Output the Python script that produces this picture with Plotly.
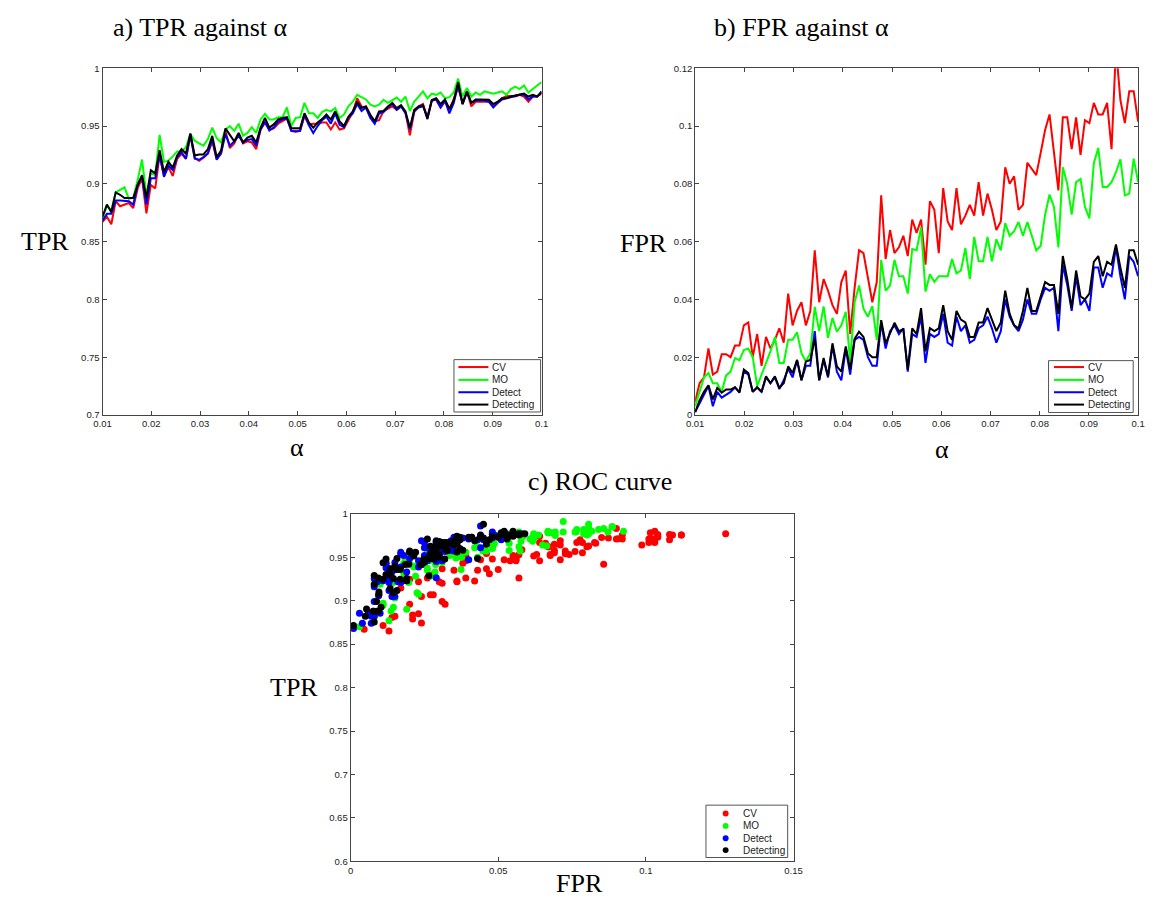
import numpy as np
import plotly.graph_objects as go

# alpha grid (0.01 : 0.0009 : 0.1)
alpha = np.round(np.linspace(0.01, 0.1, 101), 5)

names = ["CV", "MO", "Detect", "Detecting"]
colors = ["#ff0000", "#00ff00", "#0000ff", "#000000"]

tpr_cv = [0.867, 0.8715, 0.865, 0.885, 0.8806, 0.882, 0.8834, 0.879, 0.896, 0.9047,
          0.8744, 0.899, 0.896, 0.9245, 0.9067, 0.9146, 0.9067, 0.9217, 0.926, 0.9217,
          0.9415, 0.9225, 0.920, 0.9225, 0.926, 0.9367, 0.9217, 0.926, 0.9458, 0.931,
          0.935, 0.943, 0.935, 0.9367, 0.9358, 0.930, 0.947, 0.9528, 0.947, 0.948,
          0.952, 0.9542, 0.9565, 0.9458, 0.9458, 0.9458, 0.9585, 0.9514, 0.952, 0.952,
          0.953, 0.953, 0.947, 0.953, 0.947, 0.948, 0.955, 0.962, 0.974, 0.967,
          0.966, 0.958, 0.954, 0.955, 0.963, 0.965, 0.967, 0.964, 0.967, 0.962,
          0.942, 0.962, 0.967, 0.969, 0.957, 0.972, 0.9727, 0.966, 0.9712, 0.964,
          0.973, 0.983, 0.970, 0.980, 0.967, 0.971, 0.971, 0.971, 0.971, 0.967,
          0.970, 0.974, 0.976, 0.976, 0.9755, 0.977, 0.9755, 0.971, 0.9755, 0.9755,
          0.978]
tpr_mo = [0.870, 0.881, 0.877, 0.8925, 0.8948, 0.897, 0.887, 0.888, 0.903, 0.921,
          0.890, 0.909, 0.9075, 0.9424, 0.919, 0.920, 0.9237, 0.928, 0.928, 0.9316,
          0.943, 0.9373, 0.935, 0.933, 0.9387, 0.9486, 0.9395, 0.9358, 0.947, 0.950,
          0.9458, 0.952, 0.9415, 0.944, 0.949, 0.944, 0.9557, 0.9605, 0.9557, 0.9557,
          0.9576, 0.9576, 0.966, 0.950, 0.957, 0.9576, 0.970, 0.961, 0.961, 0.957,
          0.962, 0.964, 0.9627, 0.9655, 0.957, 0.960, 0.967, 0.971, 0.977, 0.975,
          0.973, 0.9684, 0.967, 0.9684, 0.9726, 0.970, 0.9726, 0.9746, 0.971, 0.9755,
          0.963, 0.9712, 0.9755, 0.980, 0.974, 0.978, 0.977, 0.979, 0.974, 0.975,
          0.979, 0.991, 0.9755, 0.983, 0.9755, 0.979, 0.977, 0.980, 0.979, 0.978,
          0.979, 0.980, 0.977, 0.982, 0.984, 0.982, 0.985, 0.979, 0.982, 0.985,
          0.988]
tpr_detect = [0.868, 0.874, 0.874, 0.8855, 0.8855, 0.885, 0.885, 0.882, 0.899, 0.906,
              0.882, 0.9047, 0.9047, 0.9254, 0.906, 0.916, 0.9118, 0.923, 0.9274, 0.9217,
              0.943, 0.9217, 0.9208, 0.923, 0.9265, 0.9387, 0.9208, 0.9265, 0.943, 0.933,
              0.9367, 0.9415, 0.9358, 0.938, 0.9387, 0.933, 0.947, 0.9537, 0.946, 0.9486,
              0.9537, 0.9557, 0.9565, 0.9458, 0.945, 0.9458, 0.960, 0.9506, 0.944, 0.950,
              0.955, 0.958, 0.952, 0.961, 0.951, 0.949, 0.957, 0.961, 0.969, 0.963,
              0.966, 0.957, 0.952, 0.961, 0.962, 0.966, 0.969, 0.964, 0.967, 0.961,
              0.947, 0.963, 0.966, 0.967, 0.958, 0.972, 0.973, 0.966, 0.972, 0.961,
              0.970, 0.986, 0.969, 0.979, 0.970, 0.972, 0.972, 0.972, 0.971, 0.966,
              0.970, 0.973, 0.974, 0.975, 0.976, 0.977, 0.977, 0.973, 0.9755, 0.9755,
              0.979]
tpr_detecting = [0.8715, 0.882, 0.8755, 0.8925, 0.8905, 0.8877, 0.8877, 0.8877, 0.899, 0.9075,
                 0.8877, 0.9118, 0.909, 0.929, 0.910, 0.919, 0.914, 0.9245, 0.930, 0.926,
                 0.9435, 0.9245, 0.9254, 0.9254, 0.930, 0.9415, 0.923, 0.9288, 0.948, 0.942,
                 0.9367, 0.944, 0.9358, 0.940, 0.9415, 0.9358, 0.9486, 0.957, 0.9486, 0.9514,
                 0.9557, 0.957, 0.9576, 0.948, 0.948, 0.948, 0.961, 0.953, 0.9486, 0.953,
                 0.956, 0.960, 0.9556, 0.9627, 0.954, 0.950, 0.958, 0.9627, 0.971, 0.9655,
                 0.967, 0.9598, 0.954, 0.9627, 0.963, 0.967, 0.970, 0.9655, 0.968, 0.9627,
                 0.9484, 0.964, 0.967, 0.968, 0.956, 0.9726, 0.974, 0.969, 0.973, 0.965,
                 0.972, 0.988, 0.969, 0.980, 0.970, 0.973, 0.973, 0.973, 0.9727, 0.969,
                 0.971, 0.9741, 0.9741, 0.9755, 0.9762, 0.977, 0.978, 0.9755, 0.977, 0.9755,
                 0.980]

fpr_cv = [0.0046, 0.011, 0.013, 0.023, 0.014, 0.015, 0.021, 0.021, 0.020, 0.024,
          0.024, 0.031, 0.032, 0.020, 0.028, 0.017, 0.027, 0.023, 0.026, 0.030,
          0.025, 0.042, 0.031, 0.036, 0.039, 0.031, 0.036, 0.057, 0.039, 0.047,
          0.043, 0.038, 0.035, 0.046, 0.050, 0.028, 0.044, 0.057, 0.056, 0.048,
          0.039, 0.046, 0.076, 0.054, 0.064, 0.056, 0.058, 0.062, 0.055, 0.0676,
          0.063, 0.0676, 0.052, 0.074, 0.071, 0.056, 0.0785, 0.067, 0.064, 0.0785,
          0.066, 0.069, 0.0727, 0.069, 0.0806, 0.069, 0.0766, 0.071, 0.064, 0.067,
          0.0857, 0.080, 0.0826, 0.071, 0.0727, 0.0873, 0.085, 0.083, 0.0907, 0.0986,
          0.104, 0.090, 0.0777, 0.103, 0.103, 0.092, 0.103, 0.090, 0.102, 0.101,
          0.108, 0.104, 0.104, 0.108, 0.092, 0.127, 0.109, 0.101, 0.112, 0.112,
          0.1015]
fpr_mo = [0.003, 0.008, 0.013, 0.0145, 0.011, 0.011, 0.008, 0.0137, 0.015, 0.0197,
          0.019, 0.0225, 0.023, 0.020, 0.010, 0.014, 0.018, 0.022, 0.027, 0.018,
          0.018, 0.026, 0.026, 0.0286, 0.0214, 0.0185, 0.0214, 0.0374, 0.029, 0.0376,
          0.0267, 0.0336, 0.0288, 0.031, 0.0357, 0.0185, 0.039, 0.0448, 0.0368, 0.034,
          0.0377, 0.026, 0.0537, 0.043, 0.0448, 0.0537, 0.048, 0.048, 0.042, 0.0574,
          0.057, 0.065, 0.0427, 0.0487, 0.046, 0.048, 0.048, 0.048, 0.054, 0.049,
          0.050, 0.0577, 0.047, 0.0616, 0.0532, 0.0532, 0.0616, 0.0532, 0.0608, 0.057,
          0.0664, 0.062, 0.0636, 0.0668, 0.062, 0.0668, 0.062, 0.057, 0.0585, 0.0693,
          0.0763, 0.072, 0.058, 0.0857, 0.080, 0.0693, 0.0806, 0.0817, 0.072, 0.068,
          0.0871, 0.0924, 0.0789, 0.0789, 0.0806, 0.084, 0.0885, 0.076, 0.0766, 0.0887,
          0.0806]
fpr_detect = [0.001, 0.004, 0.007, 0.010, 0.003, 0.008, 0.006, 0.007, 0.008, 0.0095,
              0.008, 0.015, 0.014, 0.008, 0.0095, 0.008, 0.013, 0.011, 0.013, 0.009,
              0.012, 0.016, 0.013, 0.019, 0.012, 0.017, 0.017, 0.029, 0.012, 0.019,
              0.013, 0.024, 0.015, 0.012, 0.023, 0.014, 0.026, 0.027, 0.026, 0.020,
              0.017, 0.017, 0.032, 0.023, 0.029, 0.031, 0.028, 0.030, 0.015, 0.028,
              0.027, 0.034, 0.018, 0.028, 0.027, 0.028, 0.035, 0.025, 0.024, 0.034,
              0.029, 0.031, 0.025, 0.026, 0.030, 0.031, 0.034, 0.030, 0.025, 0.029,
              0.040, 0.034, 0.031, 0.029, 0.033, 0.040, 0.035, 0.035, 0.040, 0.044,
              0.043, 0.044, 0.029, 0.052, 0.045, 0.036, 0.048, 0.038, 0.040, 0.036,
              0.051, 0.051, 0.044, 0.049, 0.048, 0.058, 0.048, 0.040, 0.055, 0.053,
              0.048]
fpr_detecting = [0.001, 0.005, 0.008, 0.0103, 0.0054, 0.0094, 0.0077, 0.0088, 0.0088, 0.0096,
                 0.0077, 0.0157, 0.0145, 0.008, 0.0096, 0.008, 0.0134, 0.011, 0.0134, 0.0094,
                 0.011, 0.0168, 0.0145, 0.019, 0.012, 0.0185, 0.019, 0.0265, 0.012, 0.0197,
                 0.0134, 0.0248, 0.0168, 0.015, 0.0237, 0.0157, 0.0263, 0.0288, 0.027, 0.0214,
                 0.020, 0.020, 0.0328, 0.0248, 0.0282, 0.0319, 0.029, 0.0297, 0.0157, 0.030,
                 0.028, 0.037, 0.022, 0.030, 0.029, 0.030, 0.038, 0.029, 0.026, 0.036,
                 0.033, 0.032, 0.027, 0.027, 0.032, 0.032, 0.037, 0.033, 0.029, 0.032,
                 0.043, 0.035, 0.031, 0.030, 0.036, 0.044, 0.036, 0.036, 0.041, 0.046,
                 0.045, 0.045, 0.035, 0.055, 0.047, 0.037, 0.050, 0.041, 0.040, 0.042,
                 0.053, 0.055, 0.048, 0.053, 0.052, 0.059, 0.051, 0.044, 0.057, 0.057,
                 0.052]

x_ticks_alpha = [0.01, 0.02, 0.03, 0.04, 0.05, 0.06, 0.07, 0.08, 0.09, 0.1]
x_ticktext_alpha = ["0.01", "0.02", "0.03", "0.04", "0.05", "0.06", "0.07", "0.08", "0.09", "0.1"]
y_ticks_tpr_a = [0.7, 0.75, 0.8, 0.85, 0.9, 0.95, 1.0]
y_ticktext_tpr_a = ["0.7", "0.75", "0.8", "0.85", "0.9", "0.95", "1"]
y_ticks_fpr = [0, 0.02, 0.04, 0.06, 0.08, 0.1, 0.12]
y_ticktext_fpr = ["0", "0.02", "0.04", "0.06", "0.08", "0.1", "0.12"]
x_ticks_roc = [0, 0.05, 0.1, 0.15]
x_ticktext_roc = ["0", "0.05", "0.1", "0.15"]
y_ticks_roc = [0.6, 0.65, 0.7, 0.75, 0.8, 0.85, 0.9, 0.95, 1.0]
y_ticktext_roc = ["0.6", "0.65", "0.7", "0.75", "0.8", "0.85", "0.9", "0.95", "1"]

tpr_all = [tpr_cv, tpr_mo, tpr_detect, tpr_detecting]
fpr_all = [fpr_cv, fpr_mo, fpr_detect, fpr_detecting]
for arr in tpr_all + fpr_all:
    assert len(arr) == len(alpha), len(arr)

W, H = 1155, 903
def px(x):
    return x / W
def py(y):
    return 1 - y / H

fig = go.Figure()
for n, c, t in zip(names, colors, tpr_all):
    fig.add_trace(go.Scatter(x=alpha, y=t, mode="lines", name=n, showlegend=False,
                             line=dict(color=c, width=2), xaxis="x", yaxis="y"))
for n, c, f in zip(names, colors, fpr_all):
    fig.add_trace(go.Scatter(x=alpha, y=f, mode="lines", name=n, showlegend=False,
                             line=dict(color=c, width=2), xaxis="x2", yaxis="y2"))
for n, c, f, t in zip(names, colors, fpr_all, tpr_all):
    fig.add_trace(go.Scatter(x=f, y=t, mode="markers", name=n, showlegend=False,
                             marker=dict(color=c, size=7, line=dict(width=0)),
                             xaxis="x3", yaxis="y3"))

tickfont = dict(family="Liberation Sans, Arial, sans-serif", size=9.5, color="#222222")
axis_common = dict(showline=True, linecolor="#444444", linewidth=1, mirror="ticks",
                   ticks="inside", ticklen=4, tickcolor="#444444", showgrid=False,
                   zeroline=False, tickfont=tickfont, fixedrange=True)

fig.update_layout(
    width=W, height=H,
    margin=dict(l=0, r=0, t=0, b=0),
    paper_bgcolor="white", plot_bgcolor="white",
    showlegend=False,
    xaxis=dict(domain=[px(95), px(541)], anchor="y", range=[0.01, 0.1],
               tickvals=x_ticks_alpha, ticktext=x_ticktext_alpha, **axis_common),
    yaxis=dict(domain=[py(414), py(63)], anchor="x", range=[0.7, 1.0],
               tickvals=y_ticks_tpr_a, ticktext=y_ticktext_tpr_a, **axis_common),
    xaxis2=dict(domain=[px(697), px(1147)], anchor="y2", range=[0.01, 0.1],
                tickvals=x_ticks_alpha, ticktext=x_ticktext_alpha, **axis_common),
    yaxis2=dict(domain=[py(414), py(63)], anchor="x2", range=[0, 0.12],
                tickvals=y_ticks_fpr, ticktext=y_ticktext_fpr, **axis_common),
    xaxis3=dict(domain=[px(347), px(797)], anchor="y3", range=[0, 0.15],
                tickvals=x_ticks_roc, ticktext=x_ticktext_roc, **axis_common),
    yaxis3=dict(domain=[py(866), py(514)], anchor="x3", range=[0.6, 1.0],
                tickvals=y_ticks_roc, ticktext=y_ticktext_roc, **axis_common),
)

# compact MATLAB-style legends (box, samples, labels)
legfont = dict(family="Liberation Sans, Arial, sans-serif", size=10, color="#222222")
def add_legend(box, rows_y, sample_x0, sample_x1, text_x, kind):
    x0, y0, x1, y1 = box
    fig.add_shape(type="rect", xref="paper", yref="paper",
                  x0=px(x0), x1=px(x1), y0=py(y1), y1=py(y0),
                  line=dict(color="#555555", width=1), fillcolor="white", layer="above")
    for n, c, yy in zip(names, colors, rows_y):
        if kind == "line":
            fig.add_shape(type="line", xref="paper", yref="paper",
                          x0=px(sample_x0), x1=px(sample_x1), y0=py(yy), y1=py(yy),
                          line=dict(color=c, width=2), layer="above")
        else:
            cx = (sample_x0 + sample_x1) / 2
            r = 3
            fig.add_shape(type="circle", xref="paper", yref="paper",
                          x0=px(cx - r), x1=px(cx + r), y0=py(yy + r), y1=py(yy - r),
                          line=dict(color=c, width=0), fillcolor=c, layer="above")
        fig.add_annotation(text=n, x=px(text_x), y=py(yy), xref="paper", yref="paper",
                           showarrow=False, xanchor="left", yanchor="middle", font=legfont)

add_legend((452, 358, 540, 411), [365.5, 378.5, 391.0, 403.5], 456.5, 487, 489, "line")
add_legend((1056, 359, 1142, 411.5), [365.5, 378.5, 391.0, 403.5], 1061.5, 1092, 1094, "line")
add_legend((708, 809, 791, 862), [817.5, 830, 842.5, 854.5], 722, 734, 744, "marker")

serif = dict(family="Liberation Serif, Times New Roman, serif", size=26, color="black")
labels = [
    ("a) TPR against \u03b1", 195, 22),
    ("b) FPR against \u03b1", 805, 22),
    ("c) ROC curve", 600, 481),
    ("TPR", 37, 238),
    ("\u03b1", 293, 447),
    ("FPR", 645, 240),
    ("\u03b1", 948, 449),
    ("TPR", 290, 690),
    ("FPR", 580, 888),
]
for text, x, y in labels:
    fig.add_annotation(text=text, x=px(x), y=py(y), xref="paper", yref="paper",
                       showarrow=False, xanchor="center", yanchor="middle", font=serif)

fig.write_html("out.html")
